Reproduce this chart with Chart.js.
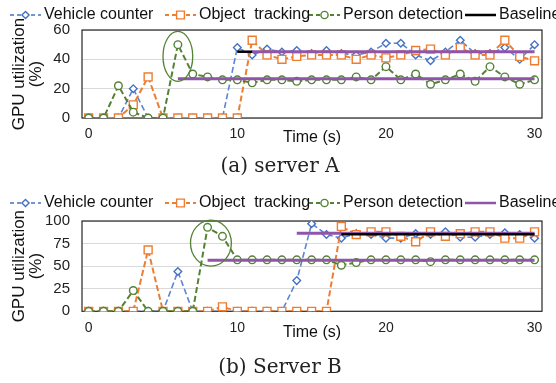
<!doctype html>
<html lang="en">
  <head>
    <script src="https://cdn.jsdelivr.net/npm/chart.js@4.4.1/dist/chart.umd.min.js"></script>
    <title>GPU utilization</title>
    <style>
      body { margin: 0; width: 556px; height: 383px; position: relative; background: #fff; overflow: hidden; }
      canvas { position: absolute; left: 0; }
      .caption { position: absolute; left: 0; width: 560px; text-align: center; font-family: "DejaVu Serif", serif; font-size: 20px; color: #222; }
    </style>
  </head>
  <body>
    <canvas id="serverA" width="556" height="160" style="top:0px"></canvas>
    <div class="caption" style="top:153px">(a) server A</div>
    <canvas id="serverB" width="556" height="160" style="top:188px"></canvas>
    <div class="caption" style="top:354px">(b) Server B</div>

  <script>
    // time axis (seconds) and tick labels
    const timeSec = [0, 1, 2, 3, 4, 5, 6, 7, 8, 9, 10, 11, 12, 13, 14, 15, 16, 17, 18, 19, 20, 21, 22, 23, 24, 25, 26, 27, 28, 29, 30];
    const xTicks = [0, 10, 20, 30];
    const seriesNames = ['Vehicle counter', 'Object  tracking', 'Person detection', 'Baseline'];

    // server A
    const vehicleA  = [0, 0, 0, 20, 0, 0, 0, 0, 0, 0, 48, 43, 47, 45, 46, 44, 46, 44, 43, 45, 51, 51, 43, 39, 45, 53, 44, 44, 48, 40, 50];
    const trackingA = [0, 0, 0, 9, 28, 0, 0, 0, 0, 0, 0, 53, 43, 40, 42, 43, 43, 43, 40, 43, 41, 43, 46, 47, 43, 48, 43, 43, 53, 42, 39];
    const personA   = [0, 0, 22, 4, 0, 0, 50, 30, 28, 26, 26, 24, 26, 26, 25, 26, 26, 26, 28, 26, 35, 26, 30, 23, 26, 30, 25, 35, 28, 23, 26];
    const yTicksA = [0, 20, 40, 60];
    const baselineA = [[6, 30, 26.7], [11, 30, 45.2]];   // [from, to, level]
    const blackLineA = [[10, 11, 45.2]];
    const circleA = [5, 7, 25, 59];                      // [t0, t1, v0, v1]

    // server B
    const vehicleB  = [0, 0, 0, 0, 0, 0, 44, 0, 0, 0, 0, 0, 0, 0, 34, 97, 85, 81, 86, 85, 81, 81, 86, 85, 88, 82, 82, 85, 87, 85, 81];
    const trackingB = [0, 0, 0, 0, 68, 0, 0, 0, 0, 5, 0, 0, 0, 0, 0, 0, 0, 94, 85, 88, 88, 83, 77, 88, 83, 86, 88, 88, 81, 81, 88];
    const personB   = [0, 0, 0, 23, 0, 0, 0, 0, 93, 83, 57, 57, 57, 57, 57, 57, 57, 51, 54, 57, 57, 57, 57, 55, 57, 57, 57, 57, 57, 57, 57];
    const yTicksB = [0, 25, 50, 75, 100];
    const baselineB = [[8, 30, 56.5], [14, 30, 86.3]];
    const blackLineB = [[17, 30, 85.2]];
    const circleB = [6.85, 9.6, 50, 101];

    const FONT = '"Liberation Sans", Arial, sans-serif';
    const BLUE = '#4472C4', ORANGE = '#ED7D31', GREEN = '#548235', PURPLE = '#8E55A8';

    function toPoints(values) {
        return timeSec.map((t, i) => ({x: t, y: values[i]}));
    }

    function seriesDataset(label, values, color, style, radius, order) {
        return {
            label: label,
            data: toPoints(values),
            borderColor: color,
            borderWidth: 2,
            borderDash: [6, 3],
            pointStyle: style,
            pointRadius: radius,
            pointBorderWidth: 1.4,
            pointBorderColor: color,
            pointBackgroundColor: '#fff',
            order: order
        };
    }

    function lineDatasets(segments, color, width, order) {
        return segments.map(s => ({
            label: 'Baseline',
            data: [{x: s[0], y: s[2]}, {x: s[1], y: s[2]}],
            borderColor: color,
            borderWidth: width,
            pointRadius: 0,
            order: order
        }));
    }

    const framePlugin = {
        id: 'frame',
        beforeDatasetsDraw(chart) {
            const a = chart.chartArea, ctx = chart.ctx;
            ctx.save();
            ctx.strokeStyle = '#262626';
            ctx.lineWidth = 1.2;
            ctx.strokeRect(a.left, a.top, a.right - a.left, a.bottom - a.top);
            ctx.restore();
        }
    };

    const ellipsePlugin = {
        id: 'ellipse',
        afterDatasetsDraw(chart, args, opts) {
            const c = opts.box;
            const xs = chart.scales.x, ys = chart.scales.y, ctx = chart.ctx;
            const x0 = xs.getPixelForValue(c[0]), x1 = xs.getPixelForValue(c[1]);
            const y0 = ys.getPixelForValue(c[2]), y1 = ys.getPixelForValue(c[3]);
            ctx.save();
            ctx.strokeStyle = GREEN;
            ctx.lineWidth = 1.3;
            ctx.beginPath();
            ctx.ellipse((x0 + x1) / 2, (y0 + y1) / 2, (x1 - x0) / 2, (y0 - y1) / 2, 0, 0, 2 * Math.PI);
            ctx.stroke();
            ctx.restore();
        }
    };

    const legendPlugin = {
        id: 'legendRow',
        afterDraw(chart, args, opts) {
            const ctx = chart.ctx;
            const xs = [10, 165, 309, 465];
            const y = 15;
            ctx.save();
            ctx.font = '16px ' + FONT;
            ctx.textBaseline = 'middle';
            opts.items.forEach((it, i) => {
                const x0 = xs[i], x1 = x0 + 31;
                ctx.strokeStyle = it.color;
                ctx.lineWidth = it.width;
                ctx.setLineDash(it.dash);
                ctx.beginPath();
                ctx.moveTo(x0, y);
                ctx.lineTo(x1, y);
                ctx.stroke();
                ctx.setLineDash([]);
                if (it.style) {
                    ctx.fillStyle = '#fff';
                    ctx.lineWidth = 1.4;
                    Chart.helpers.drawPoint(ctx, {pointStyle: it.style, radius: it.radius, borderWidth: 1.4, rotation: 0}, (x0 + x1) / 2, y);
                }
                ctx.fillStyle = '#111';
                ctx.fillText(it.text, x1 + 3, y);
            });
            ctx.restore();
        }
    };

    function createChart(id, vehicle, tracking, person, yTicks, baseline, blackLine, circle, plotTop, plotBottom, titleBottom, legendBaseColor) {
        const datasets = [
            ...lineDatasets(baseline, PURPLE, 3, 1),
            ...lineDatasets(blackLine, '#000', 2.5, 0),
            seriesDataset(seriesNames[2], person, GREEN, 'circle', 3.8, 2),
            seriesDataset(seriesNames[1], tracking, ORANGE, 'rect', 5.6, 3),
            seriesDataset(seriesNames[0], vehicle, BLUE, 'rectRot', 3.8, 4)
        ];
        datasets[datasets.length - 1].borderWidth = 1.6;
        datasets[datasets.length - 1].borderColor = '#5B86D6';

        new Chart(document.getElementById(id), {
            type: 'line',
            data: { datasets: datasets },
            options: {
                responsive: false,
                animation: false,
                layout: { padding: { top: plotTop, right: 14, left: 0, bottom: 0 } },
                plugins: {
                    legend: { display: false },
                    tooltip: { enabled: false },
                    ellipse: { box: circle },
                    legendRow: {
                        items: [
                            { text: seriesNames[0], color: BLUE, width: 1.6, dash: [4, 3], style: 'rectRot', radius: 3.6 },
                            { text: seriesNames[1], color: ORANGE, width: 2, dash: [4, 3], style: 'rect', radius: 5.5 },
                            { text: seriesNames[2], color: GREEN, width: 2, dash: [4, 3], style: 'circle', radius: 3.6 },
                            { text: seriesNames[3], color: legendBaseColor, width: 2.5, dash: [] }
                        ]
                    }
                },
                scales: {
                    x: {
                        type: 'linear',
                        min: -0.45,
                        max: 30.5,
                        afterBuildTicks: s => { s.ticks = xTicks.map(v => ({value: v})); },
                        afterFit: s => { s.height = 160 - plotBottom; },
                        grid: { display: false, drawTicks: false },
                        border: { display: false },
                        ticks: { padding: 8, color: '#222', font: { size: 14, family: FONT }, maxRotation: 0, autoSkip: false },
                        title: { display: true, text: 'Time (s)', color: '#111', font: { size: 16, family: FONT }, padding: { top: 0, bottom: titleBottom } }
                    },
                    y: {
                        min: yTicks[0],
                        max: yTicks[yTicks.length - 1],
                        afterBuildTicks: s => { s.ticks = yTicks.map(v => ({value: v})); },
                        afterFit: s => { s.width = 82; },
                        grid: { color: '#d9d9d9', drawTicks: false },
                        border: { display: false },
                        ticks: { padding: 12, color: '#222', font: { size: 15, family: FONT } },
                        title: { display: true, text: ['GPU utilization', '(%)'], color: '#111', font: { size: 17, family: FONT, lineHeight: 1.0 }, padding: { top: 11, bottom: 0 } }
                    }
                }
            },
            plugins: [framePlugin, ellipsePlugin, legendPlugin]
        });
    }

    createChart('serverA', vehicleA, trackingA, personA, yTicksA, baselineA, blackLineA, circleA, 30, 118, 12.9, '#000');
    createChart('serverB', vehicleB, trackingB, personB, yTicksB, baselineB, blackLineB, circleB, 33, 123.3, 5.4, PURPLE);
  </script>
  </body>
</html>
